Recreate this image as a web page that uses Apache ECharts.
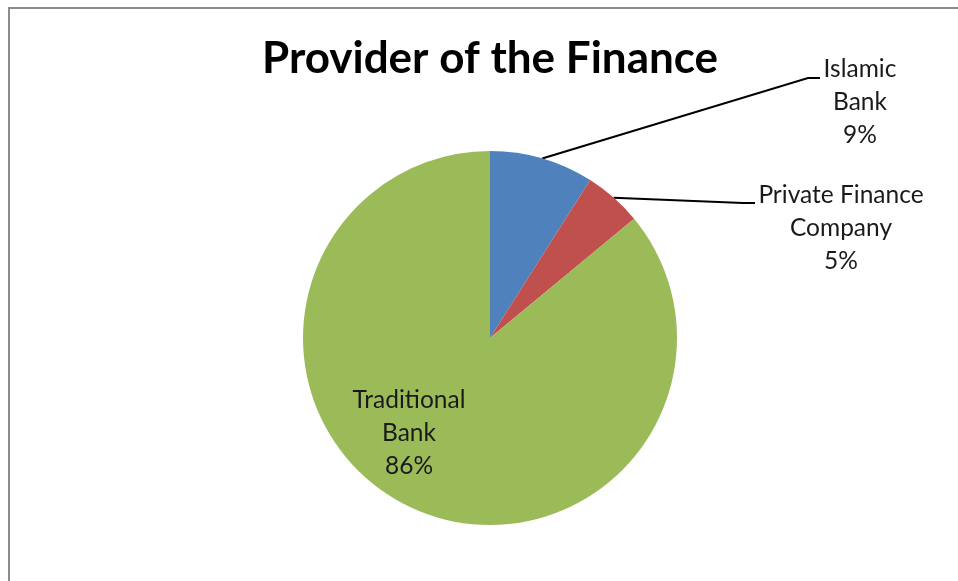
<!DOCTYPE html>
<html>
<head>
<meta charset="utf-8">
<script src="https://cdn.jsdelivr.net/npm/echarts@6/dist/echarts.min.js"></script>
<style>
html,body{margin:0;padding:0;background:#fff;}
#chart{width:958px;height:581px;}
</style>
</head>
<body>
<div id="chart"></div>
<script>
const categories = ['Islamic Bank', 'Private Finance Company', 'Traditional Bank'];
const labelNames = ['Islamic\nBank', 'Private Finance\nCompany', 'Traditional\nBank'];
const values = [9, 5, 86];
const colors = ['#4F81BD', '#C0504D', '#9BBB59'];
const titleText = 'Provider of the Finance';

const total = values.reduce((a, b) => a + b, 0);
const FONT = 'Lato, "Open Sans", sans-serif';

// label placement (layout constants)
const labelPlace = [
  {x: 860, y: 53, align: 'center', verticalAlign: 'top', lineX: 820, lineY: 78},
  {x: 841, y: 179, align: 'center', verticalAlign: 'top', lineX: 755, lineY: 203},
  {x: 409, y: 433, align: 'center', verticalAlign: 'middle'}
];

const chart = echarts.init(document.getElementById('chart'), null, {renderer: 'canvas'});
chart.setOption({
  animation: false,
  backgroundColor: '#ffffff',
  title: {
    text: titleText,
    left: 257,
    top: 32,
    textStyle: {fontFamily: FONT, fontWeight: 'bold', fontSize: 44, color: '#000'}
  },
  graphic: [{
    type: 'rect',
    shape: {x: 9, y: 8, width: 1000, height: 700},
    style: {fill: 'none', stroke: '#8c8c8c', lineWidth: 2},
    silent: true
  }],
  series: [{
    type: 'pie',
    center: [490, 338],
    radius: [0, 187],
    startAngle: 90,
    clockwise: true,
    avoidLabelOverlap: false,
    itemStyle: {borderWidth: 0},
    label: {
      show: true,
      position: 'outside',
      fontFamily: FONT,
      fontSize: 24.5,
      lineHeight: 33,
      color: '#1a1a1a',
      align: 'center',
      formatter: p => labelNames[p.dataIndex] + '\n' + Math.round(p.value / total * 100) + '%'
    },
    labelLine: {show: true, lineStyle: {color: '#000', width: 2}, length: 20, length2: 10},
    labelLayout: function (p) {
      const lp = labelPlace[p.dataIndex];
      const res = {x: lp.x, y: lp.y, align: lp.align, verticalAlign: lp.verticalAlign};
      if (lp.lineX !== undefined && p.labelLinePoints) {
        res.labelLinePoints = [p.labelLinePoints[0], [lp.lineX - 12, lp.lineY], [lp.lineX, lp.lineY]];
      }
      return res;
    },
    data: categories.map((c, i) => ({
      name: c,
      value: values[i],
      itemStyle: {color: colors[i]},
      label: i === 2 ? {position: 'inside'} : undefined,
      labelLine: i === 2 ? {show: false} : undefined
    }))
  }]
});
</script>
</body>
</html>
